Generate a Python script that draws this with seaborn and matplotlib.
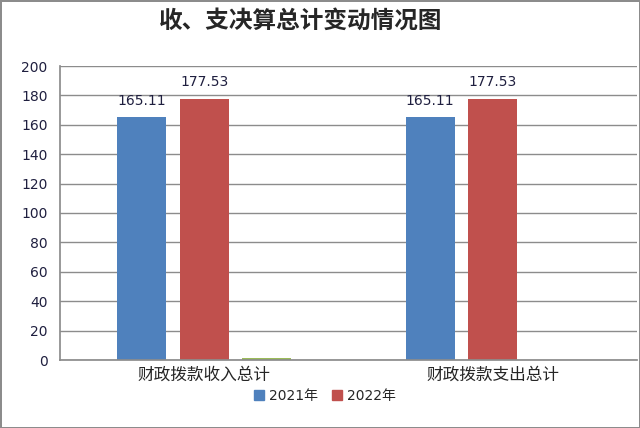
import matplotlib
matplotlib.use("Agg")
import matplotlib.pyplot as plt
import seaborn as sns
import pandas as pd
from matplotlib.patches import Patch

categories = ["财政拨款收入总计", "财政拨款支出总计"]
series_names = ["2021年", "2022年", "其他"]
values_2021 = [165.11, 165.11]
values_2022 = [177.53, 177.53]
values_other = [1.2, 0.0]
y_ticks = [0, 20, 40, 60, 80, 100, 120, 140, 160, 180, 200]
title = "收、支决算总计变动情况图"

sns.set_theme(style="white")
plt.rcParams['font.family'] = ['DejaVu Sans', 'Noto Sans CJK SC']

rows = []
for s, vals in zip(series_names, [values_2021, values_2022, values_other]):
    for c, v in zip(categories, vals):
        rows.append({"cat": c, "series": s, "value": v})
df = pd.DataFrame(rows)

colors = ["#4F81BD", "#C0504D", "#9BBB59"]

fig = plt.figure(figsize=(6.4, 4.28), dpi=100)
fig.patch.set_edgecolor("#8c8c8c")
fig.patch.set_linewidth(2)
ax = fig.add_axes([60/640, 68/428, 577/640, 294/428])

sns.barplot(data=df, x="cat", y="value", hue="series", palette=colors,
            saturation=1, width=0.65, gap=0.21, ax=ax, legend=False,
            edgecolor="none")

ax.set_ylim(0, 200)
ax.set_xlim(-0.5, 1.5)
ax.set_yticks(y_ticks)
ax.yaxis.grid(True, color="#8c8c8c", linewidth=1)
ax.set_axisbelow(True)
for sp in ["top", "right"]:
    ax.spines[sp].set_visible(False)
ax.spines["left"].set_color("#8c8c8c")
ax.spines["bottom"].set_color("#8c8c8c")
ax.set_xlabel("")
ax.set_ylabel("")
ax.tick_params(axis="y", labelsize=10, length=5, width=1, pad=4, color="#8c8c8c")
ax.tick_params(axis="x", labelsize=12, length=0, pad=5)
for lbl in ax.get_yticklabels():
    lbl.set_color("#1f1f3f")
for lbl in ax.get_xticklabels():
    lbl.set_fontfamily(['Noto Sans CJK SC', 'DejaVu Sans'])

for container, name in zip(ax.containers, series_names):
    if name == "其他":
        continue
    ax.bar_label(container, fmt="%.2f", padding=7, fontsize=10, color="#1f1f3f")

fig.text(0.47, 0.952, title, ha="center", va="center", fontsize=17,
         fontweight="bold", family=['Noto Sans CJK SC', 'DejaVu Sans'])

handles = [Patch(color=colors[0], label=series_names[0]),
           Patch(color=colors[1], label=series_names[1])]
fig.legend(handles=handles, loc="center", bbox_to_anchor=(0.508, 0.075), ncol=2,
           frameon=False, fontsize=10, handlelength=0.7, handleheight=0.7,
           handletextpad=0.4, columnspacing=1.0)

fig.savefig("out.png", dpi=100)
